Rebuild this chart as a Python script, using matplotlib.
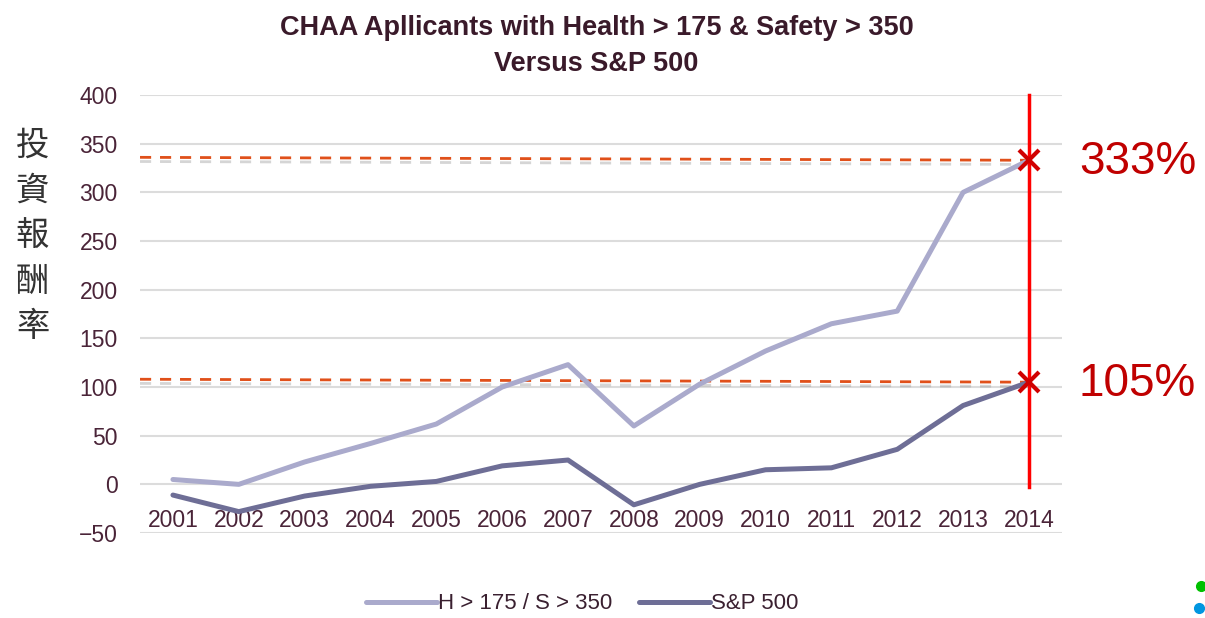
import matplotlib
matplotlib.use("Agg")
import matplotlib.pyplot as plt
import matplotlib.patheffects as pe
from matplotlib.lines import Line2D

years = [2001, 2002, 2003, 2004, 2005, 2006, 2007, 2008, 2009, 2010, 2011, 2012, 2013, 2014]
chaa = [5, 0, 23, 42, 62, 100, 123, 60, 103, 137, 165, 178, 300, 333]
sp500 = [-11, -28, -12, -2, 3, 19, 25, -21, 0, 15, 17, 36, 81, 105]
series_names = ["H > 175 / S > 350", "S&P 500"]
end_labels = ["333%", "105%"]
ylabel_text = "投資報酬率"
title_text = "CHAA Apllicants with Health > 175 & Safety > 350\nVersus S&P 500"

narrow = ["Liberation Sans Narrow", "Liberation Sans", "DejaVu Sans"]
tick_color = "#4a2438"

fig = plt.figure(figsize=(12.05, 6.18), dpi=100)
ax = fig.add_axes([0.1162, 0.1375, 0.765, 0.7087])

ax.plot(years, chaa, color="#aaaacc", lw=3.6, solid_capstyle="round", label=series_names[0])
ax.plot(years, sp500, color="#6e6e96", lw=3.6, solid_capstyle="round", label=series_names[1])

ax.set_xlim(2000.5, 2014.5)
ax.set_ylim(-50, 400)
ax.set_yticks(range(-50, 401, 50))
ax.set_yticklabels(["\u221250"] + [str(v) for v in range(0, 401, 50)])
ax.set_xticks(years)
ax.set_xticklabels([str(y) for y in years])
ax.grid(axis="y", color="#dcdcdc", lw=1.5)
ax.set_axisbelow(True)
for s in ax.spines.values():
    s.set_visible(False)
ax.tick_params(axis="both", length=0, colors=tick_color)
ax.tick_params(axis="x", pad=-17)
ax.tick_params(axis="y", pad=16)
for lab in ax.get_xticklabels() + ax.get_yticklabels():
    lab.set_family(narrow)
    lab.set_fontsize(16.5)

# dashed reference lines with soft shadow
shadow = [pe.SimpleLineShadow(offset=(0, -3), shadow_color="#888888", alpha=0.35), pe.Normal()]
last = [chaa[-1], sp500[-1]]
for v in last:
    ax.plot([2000.5, years[-1]], [v + 3, v], color="#e0501a", lw=2, ls=(0, (4, 3.2)),
            path_effects=shadow, zorder=1)

# vertical marker line and crosses
ax.plot([years[-1], years[-1]], [400, -3], color="#ff0000", lw=2.5, zorder=4, clip_on=False)
ax.plot([years[-1]] * 2, last, ls="none", marker="x", ms=15, mew=3, color="#d00000", zorder=5)
for v, t in zip(last, end_labels):
    ax.annotate(t, (years[-1], v), xytext=(36, -1), textcoords="offset points",
                va="center", ha="left", fontsize=33, color="#c00000",
                family=["Liberation Sans", "DejaVu Sans"], annotation_clip=False)

fig.text(0.495, 0.926, title_text, ha="center", va="center", fontsize=19.5,
         fontweight="bold", color="#3a1a2a", family=narrow, linespacing=1.5)

fig.text(0.027, 0.618, "\n".join(ylabel_text), ha="center", va="center", fontsize=24,
         color="#333333", family=["Noto Sans CJK TC", "DejaVu Sans"], linespacing=1.38)

leg = ax.legend(loc="center", bbox_to_anchor=(0.48, -0.162), ncol=2, frameon=False,
                handlelength=3.2, columnspacing=1.2, handletextpad=0.05,
                prop={"family": narrow, "size": 16})
for t in leg.get_texts():
    t.set_color("#3a2030")

fig.add_artist(Line2D([0.9965], [0.052], marker="o", ms=7, color="#00c000",
                      transform=fig.transFigure))
fig.add_artist(Line2D([0.995], [0.016], marker="o", ms=7, color="#0096e0",
                      transform=fig.transFigure))

fig.savefig("out.png", dpi=100)
